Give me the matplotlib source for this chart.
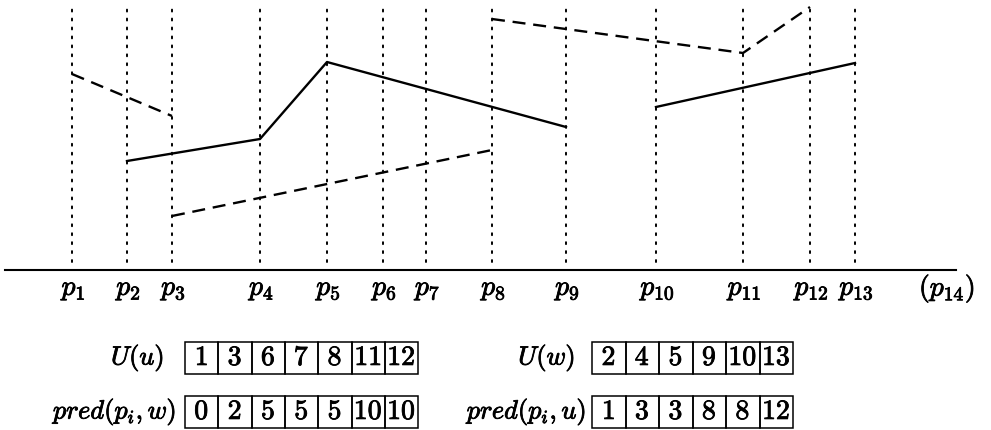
import matplotlib
matplotlib.use("Agg")
import matplotlib.pyplot as plt
from matplotlib.patches import Rectangle
import matplotlib.patheffects as pe

plt.rcParams["mathtext.fontset"] = "cm"

# abscissae of the points p1..p13 (p14 is only a label past the end)
p_x = [72, 127, 172, 260, 327, 383, 426, 492, 566, 656, 743, 810, 855]
p14_x = 947

# piecewise linear pieces: (point indices, heights above the base line)
solid_pieces = [
    ([2, 4, 5, 9], [109, 131, 208, 143]),
    ([10, 13], [163, 207]),
]
dashed_pieces = [
    ([1, 3], [196, 154]),
    ([3, 8], [54, 120]),
    ([8, 11, 12], [251, 217, 263]),
]

# the arrays under the diagram
U_u = [1, 3, 6, 7, 8, 11, 12]
pred_w = [0, 2, 5, 5, 5, 10, 10]
U_w = [2, 4, 5, 9, 10, 13]
pred_u = [1, 3, 3, 8, 8, 12]

bold = [pe.withStroke(linewidth=0.6, foreground="black")]

fig = plt.figure(figsize=(9.91, 4.3), dpi=100)
ax = fig.add_axes([0, 0, 1, 1])
ax.set_xlim(0, 991)
ax.set_ylim(-160, 270)
ax.axis("off")

# vertical dotted lines and labels
for i, x in enumerate(p_x):
    ax.plot([x, x], [8, 261], color="black", lw=1.4,
            linestyle=(0, (1, 3.6)), dash_capstyle="round")
    ax.text(x + 2, -18, f"$p_{{{i + 1}}}$", fontsize=20, ha="center", va="center",
            path_effects=bold)
ax.text(p14_x, -18, "$(p_{14})$", fontsize=20, ha="center", va="center",
        path_effects=bold)

# base line
ax.plot([5, 956], [0, 0], color="black", lw=1.5)

for idx, h in solid_pieces:
    ax.plot([p_x[i - 1] for i in idx], h, color="black", lw=1.7)
for idx, h in dashed_pieces:
    ax.plot([p_x[i - 1] for i in idx], h, color="black", lw=1.7,
            linestyle=(0, (5.5, 3.3)))


def draw_row(values, x0, ytop, label, label_x, cell_w=33.3, cell_h=32):
    for k, v in enumerate(values):
        ax.add_patch(Rectangle((x0 + k * cell_w, ytop - cell_h), cell_w, cell_h,
                               fill=False, edgecolor="black", lw=1.1))
        ax.text(x0 + (k + 0.5) * cell_w, ytop - cell_h / 2 + 1, f"${v}$",
                fontsize=20, ha="center", va="center", path_effects=bold)
    ax.text(label_x, ytop - cell_h / 2, label, fontsize=19, ha="right", va="center",
            path_effects=bold)


draw_row(U_u, 185, -72, "$U(u)$", 164)
draw_row(pred_w, 185, -126, "$pred(p_i,w)$", 177)
draw_row(U_w, 592, -72, "$U(w)$", 575, cell_w=33.5)
draw_row(pred_u, 592, -126, "$pred(p_i,u)$", 587, cell_w=33.5)

fig.savefig("out.png", dpi=100)
